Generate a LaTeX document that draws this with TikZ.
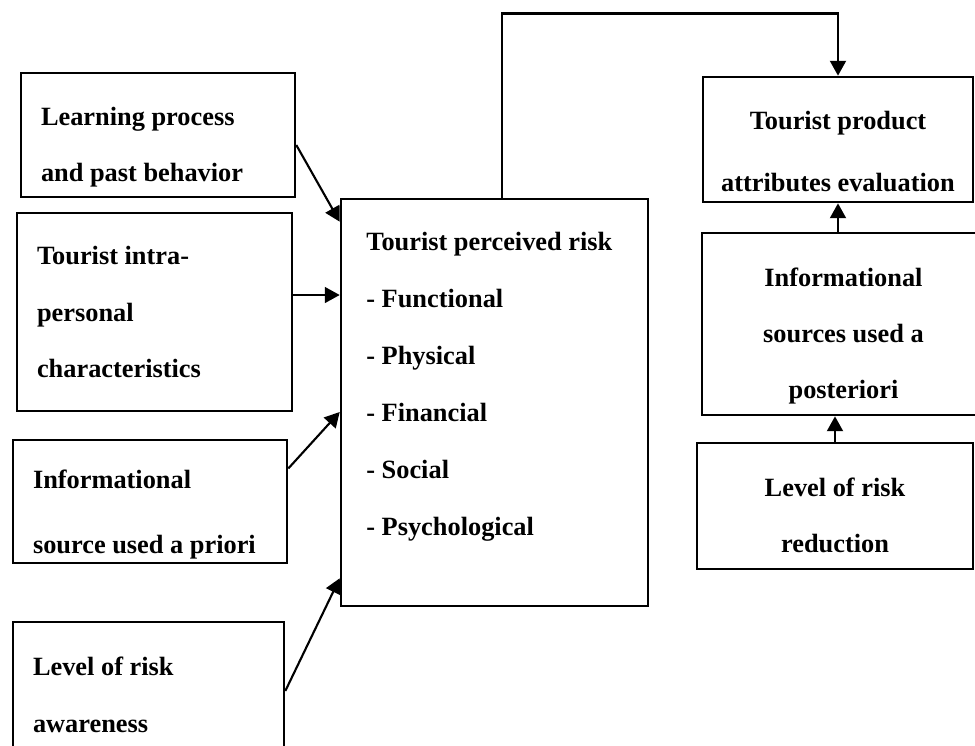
\documentclass[tikz,border=0pt]{standalone}
\usepackage{fontspec}
\setmainfont{Liberation Serif}
\usetikzlibrary{arrows.meta}

\newcommand\boxfont{\bfseries\fontsize{15}{32}\selectfont}
\newcommand\tp[1]{\rule{0pt}{#1}}

\begin{document}
\begin{tikzpicture}[x=0.02cm, y=-0.02cm, >={Triangle[length=8.5pt,width=9pt]},
    box/.style={draw, line width=1.5pt, inner xsep=0.4cm, inner ysep=0pt, align=flush left, font=\boxfont},
    cbox/.style={box, align=center, inner xsep=0pt},
    txt/.style={inner sep=0pt, align=flush left, font=\bfseries\fontsize{15}{32.4}\selectfont},
    arr/.style={->, line width=1.2pt}]
    \useasboundingbox (0,0) rectangle (975,745);

    % left column
    \node[box, text width=4.68cm, minimum height=2.48cm] (learn) at (158,135) {\tp{24pt}Learning process\\and past behavior};
    \node[box, text width=4.7cm, minimum height=3.96cm] (intra) at (154.5,312) {Tourist intra-\\personal\\characteristics};
    \node[box, text width=4.68cm, minimum height=2.46cm] (apriori) at (150,501.5) {\tp{25pt}Informational\\[5pt]source used a priori};
    \node[box, text width=4.62cm, minimum height=2.76cm] (aware) at (148.5,691) {\tp{15pt}Level of risk\\awareness};

    % centre
    \node[box, minimum width=6.14cm, minimum height=8.14cm] (risk) at (494.5,402.5) {};
    \node[txt, anchor=north west] (risklist) at (366,232) {Tourist perceived risk\\- Functional\\- Physical\\- Financial\\- Social\\- Psychological};

    % right column
    \node[cbox, minimum width=5.4cm, minimum height=2.5cm] (eval) at (838,139.5) {\tp{24pt}Tourist product\\[3pt]attributes evaluation};
    \node[cbox, minimum width=5.66cm, minimum height=3.64cm] (post) at (843.5,324) {\tp{24pt}Informational\\sources used a\\posteriori};
    \node[cbox, minimum width=5.52cm, minimum height=2.52cm] (reduce) at (835,506) {\tp{21.5pt}Level of risk\\reduction};

    \coordinate (c2) at ([yshift=0.34cm]intra.east);

    \draw[arr] ([yshift=-0.2cm]learn.east) -- ([yshift=-0.48cm]risk.north west);
    \draw[arr] (c2) -- (c2 -| risk.west);
    \draw[arr] ([yshift=0.66cm]apriori.east) -- ([yshift=-0.19cm]risk.west);
    \draw[arr] (aware.east) -- ([yshift=0.58cm]risk.south west);

    \draw[->, line width=1.5pt] ([xshift=0.15cm]risk.north) -- ++(0cm,3.68cm) -| (eval.north);
    \draw[arr, line width=1.5pt] (post.north -| eval.south) -- (eval.south);
    \draw[arr, line width=1.5pt] (reduce.north) -- (reduce.north |- post.south);
\end{tikzpicture}
\end{document}
